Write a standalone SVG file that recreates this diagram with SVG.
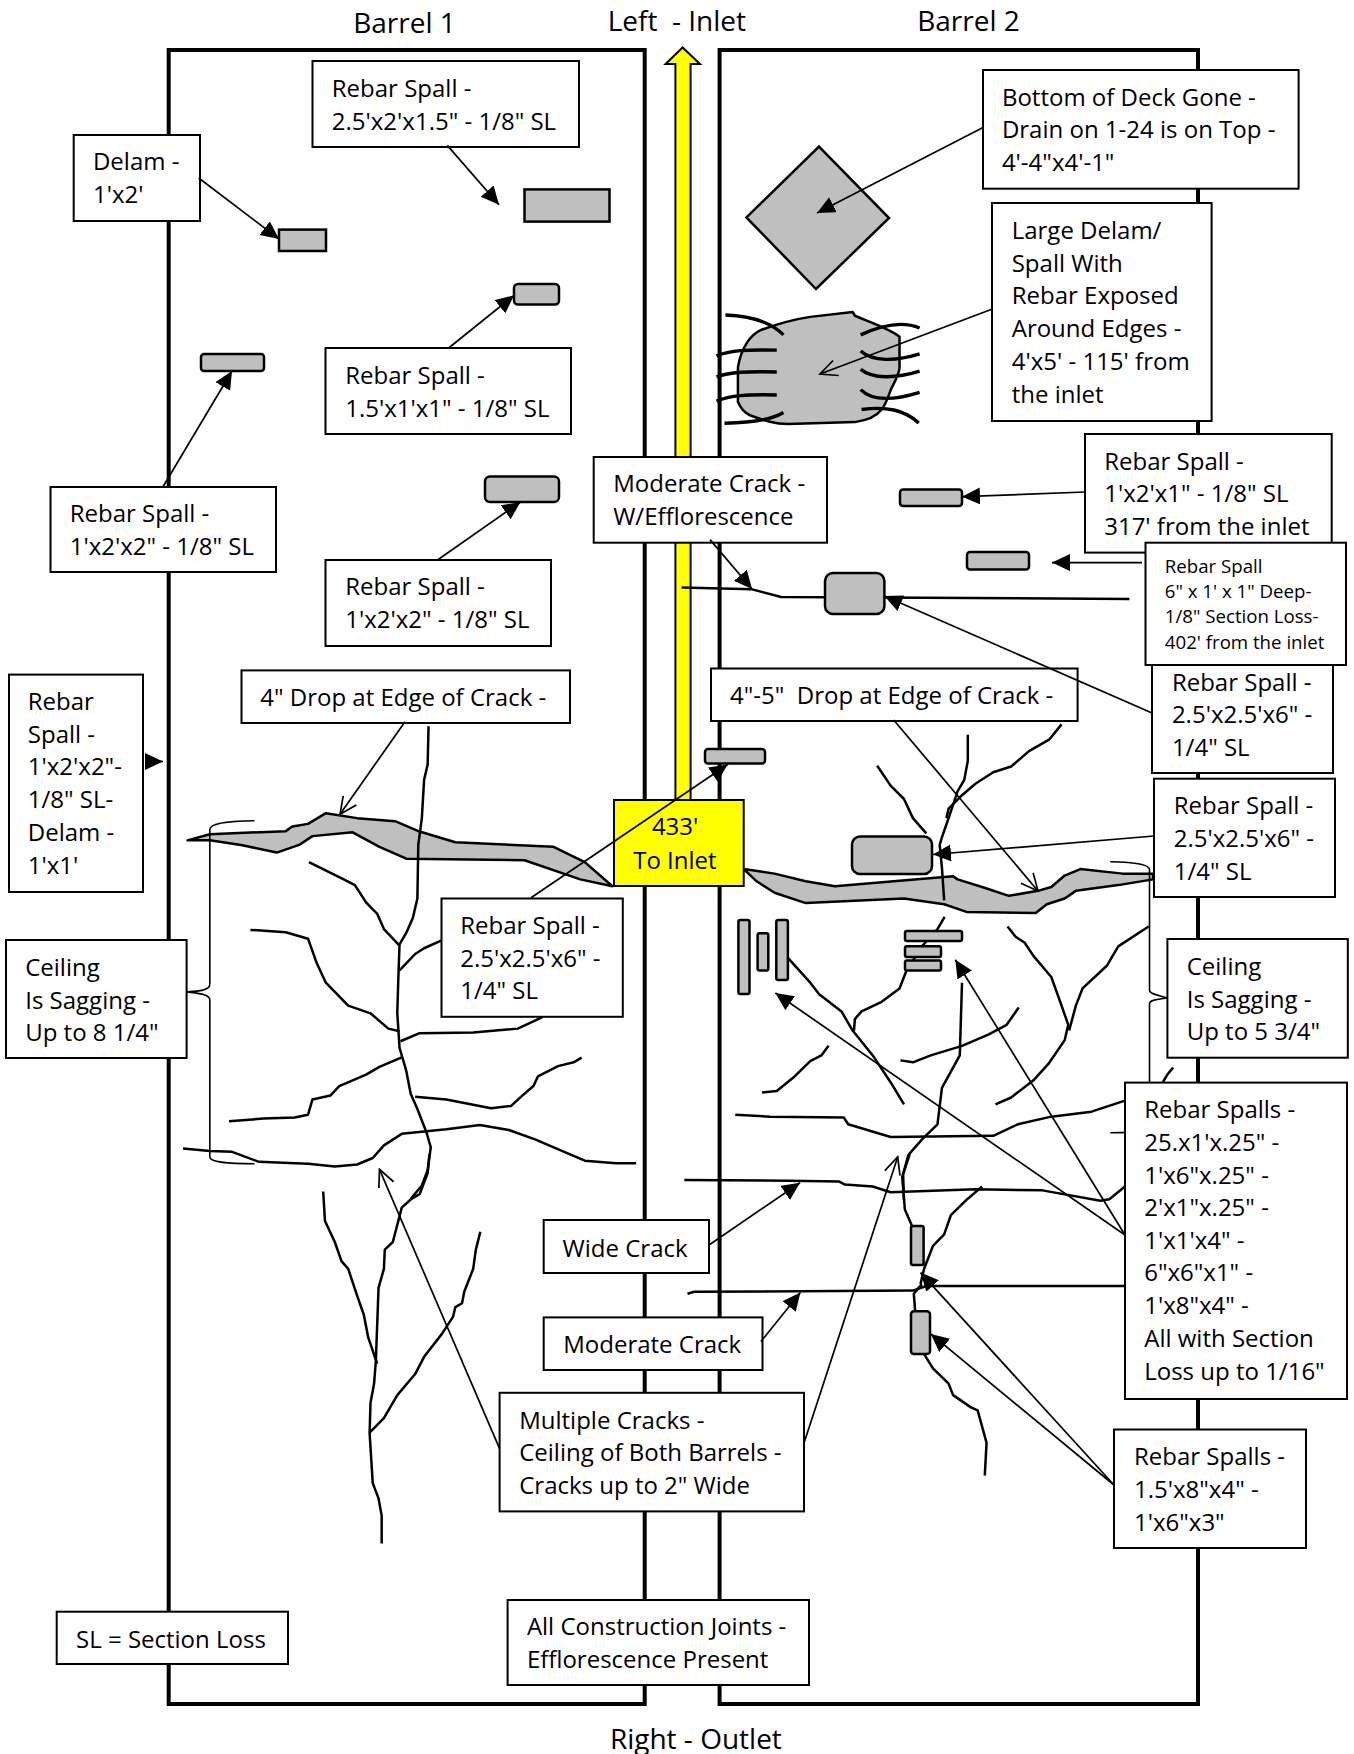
<svg xmlns="http://www.w3.org/2000/svg" width="1354" height="1754" viewBox="0 0 1354 1754">
<style>
.t{font-family:"Open Sans","Noto Sans",sans-serif;font-size:24px;fill:#000;white-space:pre;transform:translate(-.8px,0)}
.s{font-size:18.67px}
.h{font-size:28px}
.b{fill:#fff;stroke:#000;stroke-width:2}
.g{fill:#bfbfbf;stroke:#000;stroke-width:2.5}
.w{fill:none;stroke:#000;stroke-width:4}
.c polyline,.c path{fill:none;stroke:#000;stroke-width:2.5;stroke-linejoin:round;stroke-linecap:butt;vector-effect:non-scaling-stroke}
.c .br{stroke-width:1.6}
.c path.rb{stroke-width:3.4}
.c polygon,.c path.blob{fill:#bfbfbf;stroke:#000;stroke-width:2.5;stroke-linejoin:round;vector-effect:non-scaling-stroke}
.a line{stroke:#000;stroke-width:1.7;marker-end:url(#fa)}
.a line.o{marker-end:url(#oa)}
</style>
<defs>
<marker id="fa" markerUnits="userSpaceOnUse" markerWidth="19" markerHeight="18" refX="18" refY="8.5" orient="auto"><path d="M0,0L18,8.5L0,17Z" fill="#000"/></marker>
<marker id="oa" markerUnits="userSpaceOnUse" markerWidth="20" markerHeight="20" refX="18" refY="9" orient="auto"><path d="M1,1L18,9L1,17" fill="none" stroke="#000" stroke-width="1.7"/></marker>
</defs>
<rect width="1354" height="1754" fill="#fff"/>
<g id="walls">
<rect class="w" x="168.7" y="50" width="476" height="1654"/>
<rect class="w" x="719.6" y="50" width="478.4" height="1654"/>
</g>
<polygon id="direction-arrow" points="675.4,800 675.4,64 665.6,64 682.6,47.5 700,64 690.6,64 690.6,800" fill="#ffff00" stroke="#000" stroke-width="2"/>
<g id="titles">
<text class="t h" x="354" y="32.5">Barrel 1</text>
<text class="t h" x="608.5" y="30.6">Left  - Inlet</text>
<text class="t h" x="918" y="30.6">Barrel 2</text>
<text class="t h" x="610.7" y="1749">Right - Outlet</text>
</g>
<g id="cracks-left" class="c" transform="translate(0,600) scale(.4464,.3827)">
<polygon points="420,628 470,612 640,604 655,592 690,585 730,557 800,570 885,578 940,605 1020,633 1240,645 1310,685 1372,748 1300,730 1175,680 910,676 850,645 790,607 700,617 670,640 620,660 540,640 470,628"/>
<polyline points="960,330 958,430 950,470 945,570 937,640 935,780 925,830 910,870 895,900 892,1000 890,1080 895,1170 910,1230 920,1290 935,1330 955,1390 965,1430 958,1490 945,1530 920,1565"/>
<polyline points="692,685 770,730 795,745 820,790 845,820 860,860 895,903"/>
<polyline points="895,968 930,925 950,910 988,890"/>
<polyline points="561,862 640,868 690,885 710,950 730,1000 780,1060 830,1080 870,1120 895,1127"/>
<polyline points="897,1153 940,1132 1060,1130 1160,1120 1215,1090"/>
<polyline points="513,1362 590,1355 660,1352 690,1345 700,1305 740,1295 760,1270 820,1240 850,1220 900,1195"/>
<polyline points="930,1298 1000,1305 1100,1328 1145,1322 1170,1295 1195,1270 1205,1245 1250,1218 1285,1208 1303,1196"/>
<polyline points="410,1433 470,1440 520,1442 580,1468 690,1473 750,1480 800,1475 835,1458 860,1425 900,1395 1000,1383 1075,1372 1140,1385 1200,1410 1260,1440 1310,1465 1380,1472 1425,1472"/>
<path class="br" d="M570,577C500,578 470,585 470,600L470,1005C470,1020 445,1022 420,1024C445,1028 470,1030 470,1045L470,1455C470,1470 510,1473 570,1473"/>
</g>
<g id="cracks-left-lower" class="c" transform="translate(0,1154) scale(.4464,.3827)">
<polyline points="920,119 940,105 958,50 962,0"/>
<polyline points="920,119 900,140 880,230 862,250 860,300 848,350 842,540 838,600 830,650 828,730 835,860 848,900 855,945 855,1018"/>
<polyline points="724,98 728,175 750,230 765,280 780,300 800,370 815,420 825,480 845,548"/>
<polyline points="1076,203 1066,250 1060,300 1040,360 1035,390 1020,400 1015,425 990,470 950,530 930,575 890,630 860,690 828,728"/>
</g>
<g id="cracks-right" class="c" transform="translate(654,600) scale(.4464,.3827)">
<polygon points="201,703 270,715 340,735 405,748 670,722 680,730 735,750 795,773 860,760 890,750 920,720 955,703 1050,715 1118,715 1118,730 1040,745 945,760 920,780 880,795 855,818 700,815 650,795 560,780 340,792 270,765 230,735"/>
<polyline points="703,352 703,420 695,470 680,500 660,570 645,620 640,640 645,700 650,785"/>
<polyline points="913,325 885,365 840,395 800,435 760,450 720,480 690,510 660,545 655,570"/>
<polyline points="500,433 530,485 560,520 580,570 610,610"/>
<polyline points="651,828 635,860 600,905 565,970 550,1015 510,1050 465,1075 450,1095 448,1125"/>
<polyline points="300,935 350,1000 370,1030 420,1075 445,1125 490,1190 530,1260 560,1318"/>
<polyline points="792,853 810,880 830,895 850,930 890,985 910,1050 928,1110 920,1150 885,1210 850,1255 800,1300 765,1318"/>
<polyline points="1108,853 1040,905 1015,955 960,1015 945,1060 930,1125"/>
<polyline points="817,1065 790,1110 750,1135 690,1165 620,1190 580,1208 552,1203"/>
<polyline points="391,1165 375,1190 350,1205 315,1245 275,1283 242,1287"/>
<polyline points="690,1000 685,1190 645,1275 635,1370 600,1410 570,1450 558,1500 560,1568"/>
<polyline points="182,1345 260,1350 425,1352 435,1370 530,1403 760,1400 815,1370 890,1350 980,1337 1055,1308"/>
<polyline points="1140,1260 1150,1240 1163,1222"/>
<path class="br" d="M1022,684C1080,686 1110,690 1110,705L1110,1020C1110,1030 1130,1033 1150,1040C1130,1043 1110,1045 1110,1055L1110,1370C1110,1390 1080,1392 1022,1392"/>
</g>
<g id="cracks-right-lower" class="c" transform="translate(654,1154) scale(.4464,.3827)">
<polyline points="573,0 556,60 562,145 578,188"/>
<polyline points="600,340 582,365 585,410"/>
<polyline points="605,523 625,560 660,600 670,630 710,662 725,670 745,755 741,840"/>
<polyline points="68,68 300,70 415,72 428,80 490,85 530,100 720,92 870,95 1000,122 1020,118 1055,85"/>
<polyline points="735,85 700,120 665,160 650,210 625,240 605,300 597,340"/>
<polyline points="75,365 90,360 580,357 610,345 1055,345"/>
</g>
<g id="cracks-top" class="c" transform="translate(654,0) scale(.4464,.3827)">
<polyline points="62,1535 220,1540 285,1560 1065,1565"/>
</g>
<g id="large-spall" class="c" transform="translate(654,0) scale(.4464,.3827)">
<path class="blob" d="M445,815L350,828C310,835 280,845 240,862C215,875 195,910 188,960L188,1050C195,1070 205,1080 215,1085C250,1100 270,1108 300,1108L450,1103C480,1098 500,1085 510,1070C520,1055 525,1035 530,1020C538,1000 550,975 550,960L550,880C530,860 480,840 450,825Z"/>
<path class="rb" d="M160,823C210,825 260,840 290,875"/>
<path class="rb" d="M140,930C170,915 210,913 275,915"/>
<path class="rb" d="M140,985C170,972 210,970 275,972"/>
<path class="rb" d="M140,1048C170,1033 210,1030 275,1032"/>
<path class="rb" d="M158,1106C210,1105 260,1100 290,1078"/>
<path class="rb" d="M463,875C500,855 550,835 595,857"/>
<path class="rb" d="M463,917C490,945 540,945 595,925"/>
<path class="rb" d="M463,965C490,990 540,990 595,970"/>
<path class="rb" d="M463,1018C490,1050 540,1045 595,1025"/>
<path class="rb" d="M465,1070C520,1062 560,1070 593,1105"/>
</g>
<g id="spalls">
<polygon id="deck-gone" class="g" points="819,146.6 889,218 816,289 746.4,217.4"/>
<rect id="s1" class="g" x="279" y="229.6" width="47" height="21.4"/>
<rect id="s2" class="g" x="524.5" y="189.4" width="85" height="32.2"/>
<rect id="s3" class="g" x="514" y="284" width="45" height="20.6" rx="4"/>
<rect id="s4" class="g" x="201" y="354" width="63" height="17" rx="3"/>
<rect id="s5" class="g" x="485" y="476.5" width="74" height="25.5" rx="5"/>
<rect id="s6" class="g" x="900" y="489.5" width="62" height="16.5" rx="3"/>
<rect id="s7" class="g" x="967" y="552" width="62" height="17.5" rx="3"/>
<rect id="s8" class="g" x="825" y="573" width="59.4" height="41" rx="8"/>
<rect id="s9" class="g" x="705" y="749" width="60" height="14.4" rx="3"/>
<rect id="s10" class="g" x="852" y="836.5" width="80" height="37.5" rx="8"/>
<rect id="s11" class="g" x="738.4" y="920" width="11.1" height="74" rx="2"/>
<rect id="s12" class="g" x="757.6" y="933.3" width="10.7" height="37.1" rx="2"/>
<rect id="s13" class="g" x="776.3" y="920" width="11.6" height="60" rx="2"/>
<rect id="s14" class="g" x="905" y="931" width="57" height="10" rx="2"/>
<rect id="s15" class="g" x="905" y="946.3" width="36" height="10.7" rx="2"/>
<rect id="s16" class="g" x="905" y="960.5" width="36" height="10" rx="2"/>
<rect id="s17" class="g" x="911" y="1226" width="12.6" height="39" rx="2"/>
<rect id="s18" class="g" x="911" y="1311.3" width="19" height="42.7" rx="3"/>
</g>
<g id="inlet-box"><rect x="614" y="800" width="129.7" height="86" fill="#ffff00" stroke="#000" stroke-width="2"/><text class="t"><tspan x="652.7" y="835">433'</tspan><tspan x="634" y="869">To Inlet</tspan></text></g>
<g id="n-delam"><rect class="b" x="73.7" y="135" width="126.3" height="86"/><text class="t"><tspan x="93.75" y="170">Delam -</tspan><tspan x="93.75" y="203">1'x2'</tspan></text></g>
<g id="n-spall-a"><rect class="b" x="312.5" y="61" width="266.5" height="86"/><text class="t"><tspan x="332.6" y="96.8">Rebar Spall -</tspan><tspan x="332.6" y="130">2.5'x2'x1.5" - 1/8" SL</tspan></text></g>
<g id="n-spall-b"><rect class="b" x="325.5" y="348" width="245.5" height="86"/><text class="t"><tspan x="346" y="384">Rebar Spall -</tspan><tspan x="346" y="417">1.5'x1'x1" - 1/8" SL</tspan></text></g>
<g id="n-spall-c"><rect class="b" x="50.5" y="487" width="225.5" height="85"/><text class="t"><tspan x="70.5" y="521.6">Rebar Spall -</tspan><tspan x="70.5" y="555">1'x2'x2" - 1/8" SL</tspan></text></g>
<g id="n-spall-d"><rect class="b" x="325.5" y="560" width="225.5" height="86"/><text class="t"><tspan x="346" y="595">Rebar Spall -</tspan><tspan x="346" y="627.6">1'x2'x2" - 1/8" SL</tspan></text></g>
<g id="n-moderate-eff"><rect class="b" x="593.7" y="457" width="233.3" height="85.7"/><text class="t"><tspan x="614" y="492">Moderate Crack -</tspan><tspan x="614" y="525">W/Efflorescence</tspan></text></g>
<g id="n-deck"><rect class="b" x="983" y="70" width="315.6" height="118.7"/><text class="t"><tspan x="1002.7" y="106">Bottom of Deck Gone -</tspan><tspan x="1002.7" y="138">Drain on 1-24 is on Top -</tspan><tspan x="1002.7" y="171">4'-4"x4'-1"</tspan></text></g>
<g id="n-large"><rect class="b" x="992" y="203" width="219.6" height="218"/><text class="t"><tspan x="1012.5" y="239">Large Delam/</tspan><tspan x="1012.5" y="271.5">Spall With</tspan><tspan x="1012.5" y="304">Rebar Exposed</tspan><tspan x="1012.5" y="337">Around Edges -</tspan><tspan x="1012.5" y="370">4'x5' - 115' from</tspan><tspan x="1012.5" y="402.6">the inlet</tspan></text></g>
<g id="n-spall-e"><rect class="b" x="1085" y="434" width="246.7" height="118.6"/><text class="t"><tspan x="1105" y="469.6">Rebar Spall -</tspan><tspan x="1105" y="502">1'x2'x1" - 1/8" SL</tspan><tspan x="1105" y="534.6">317' from the inlet</tspan></text></g>
<g id="n-spall-g"><rect class="b" x="1152" y="655" width="181" height="118"/><text class="t"><tspan x="1172.7" y="691">Rebar Spall -</tspan><tspan x="1172.7" y="723">2.5'x2.5'x6" -</tspan><tspan x="1172.7" y="755.8">1/4" SL</tspan></text></g>
<g id="n-spall-f"><rect class="b" x="1145.5" y="542.7" width="200.5" height="122.3"/><text class="t s"><tspan x="1165.6" y="573">Rebar Spall</tspan><tspan x="1165.6" y="598">6" x 1' x 1" Deep-</tspan><tspan x="1165.6" y="623">1/8" Section Loss-</tspan><tspan x="1165.6" y="649">402' from the inlet</tspan></text></g>
<g id="n-spall-h"><rect class="b" x="1154" y="778.7" width="181" height="118.3"/><text class="t"><tspan x="1174.5" y="813.5">Rebar Spall -</tspan><tspan x="1174.5" y="847">2.5'x2.5'x6" -</tspan><tspan x="1174.5" y="880">1/4" SL</tspan></text></g>
<g id="n-drop-right"><rect class="b" x="711" y="668.5" width="366.6" height="52.5"/><text class="t" x="730.8" y="704">4"-5"  Drop at Edge of Crack -</text></g>
<g id="n-drop-left"><rect class="b" x="241.5" y="670.4" width="328.5" height="52.6"/><text class="t" x="261" y="706">4" Drop at Edge of Crack -</text></g>
<g id="n-spall-left"><rect class="b" x="9" y="674.6" width="134" height="217.4"/><text class="t"><tspan x="28.6" y="710">Rebar</tspan><tspan x="28.6" y="742.7">Spall -</tspan><tspan x="28.6" y="775">1'x2'x2"-</tspan><tspan x="28.6" y="808">1/8" SL-</tspan><tspan x="28.6" y="841">Delam -</tspan><tspan x="28.6" y="873.6">1'x1'</tspan></text></g>
<g id="n-ceiling-left"><rect class="b" x="6" y="940" width="180.6" height="118"/><text class="t"><tspan x="26" y="976">Ceiling</tspan><tspan x="26" y="1008.7">Is Sagging -</tspan><tspan x="26" y="1041">Up to 8 1/4"</tspan></text></g>
<g id="n-spall-center"><rect class="b" x="441.5" y="898.5" width="181.3" height="118.3"/><text class="t"><tspan x="461" y="934">Rebar Spall -</tspan><tspan x="461" y="966.6">2.5'x2.5'x6" -</tspan><tspan x="461" y="999">1/4" SL</tspan></text></g>
<g id="n-ceiling-right"><rect class="b" x="1167.4" y="939" width="180.4" height="118.7"/><text class="t"><tspan x="1187.5" y="975">Ceiling</tspan><tspan x="1187.5" y="1007.6">Is Sagging -</tspan><tspan x="1187.5" y="1040">Up to 5 3/4"</tspan></text></g>
<g id="n-spalls-list"><rect class="b" x="1125" y="1082.6" width="222" height="316.4"/><text class="t"><tspan x="1145" y="1117.8">Rebar Spalls -</tspan><tspan x="1145" y="1151">25.x1'x.25" -</tspan><tspan x="1145" y="1183.5">1'x6"x.25" -</tspan><tspan x="1145" y="1216">2'x1"x.25" -</tspan><tspan x="1145" y="1248.5">1'x1'x4" -</tspan><tspan x="1145" y="1281.4">6"x6"x1" -</tspan><tspan x="1145" y="1314">1'x8"x4" -</tspan><tspan x="1145" y="1347">All with Section</tspan><tspan x="1145" y="1380">Loss up to 1/16"</tspan></text></g>
<g id="n-spalls-two"><rect class="b" x="1114" y="1429.5" width="192" height="118.5"/><text class="t"><tspan x="1134.8" y="1465">Rebar Spalls -</tspan><tspan x="1134.8" y="1497.7">1.5'x8"x4" -</tspan><tspan x="1134.8" y="1531">1'x6"x3"</tspan></text></g>
<g id="n-wide"><rect class="b" x="543.7" y="1220" width="165.3" height="53"/><text class="t" x="563.4" y="1256.6">Wide Crack</text></g>
<g id="n-moderate"><rect class="b" x="543.7" y="1317.4" width="218.8" height="52.6"/><text class="t" x="564" y="1353.4">Moderate Crack</text></g>
<g id="n-multiple"><rect class="b" x="499.6" y="1392.8" width="304.4" height="118.6"/><text class="t"><tspan x="520" y="1428.8">Multiple Cracks -</tspan><tspan x="520" y="1461">Ceiling of Both Barrels -</tspan><tspan x="520" y="1494">Cracks up to 2" Wide</tspan></text></g>
<g id="n-joints"><rect class="b" x="507.6" y="1600" width="301.4" height="85"/><text class="t"><tspan x="527.7" y="1635">All Construction Joints -</tspan><tspan x="527.7" y="1668">Efflorescence Present</tspan></text></g>
<g id="n-sl"><rect class="b" x="56.7" y="1611.7" width="231.3" height="52.3"/><text class="t" x="76.8" y="1648.4">SL = Section Loss</text></g>
<g id="connectors" class="a">
<line x1="198.7" y1="178" x2="279" y2="239"/>
<line x1="447.3" y1="145.4" x2="499" y2="204.7"/>
<line x1="448.7" y1="348" x2="514" y2="295.4"/>
<line x1="163" y1="486.8" x2="232" y2="371"/>
<line x1="437.5" y1="560" x2="520.5" y2="502"/>
<line x1="983" y1="127.4" x2="817" y2="213"/>
<line class="o" x1="992.4" y1="309" x2="820" y2="374"/>
<line x1="1085" y1="492" x2="962" y2="496.7"/>
<line x1="1142" y1="562.6" x2="1052" y2="562.6"/>
<line x1="710" y1="539.6" x2="752" y2="589"/>
<line x1="1152" y1="713" x2="884.4" y2="596"/>
<line x1="1154" y1="836" x2="933" y2="854.5"/>
<line class="o" x1="893.7" y1="720" x2="1038" y2="891"/>
<line class="o" x1="405" y1="721.7" x2="340" y2="814.3"/>
<line x1="147" y1="761.5" x2="163" y2="761.5"/>
<line x1="531" y1="897.7" x2="727.7" y2="764.5"/>
<line x1="709.4" y1="1244.7" x2="800" y2="1182.7"/>
<line x1="761" y1="1341.5" x2="800.4" y2="1292.5"/>
<line class="o" x1="499.6" y1="1448.7" x2="379.5" y2="1169.3"/>
<line class="o" x1="804" y1="1443" x2="897.7" y2="1157"/>
<line x1="1125" y1="1235" x2="775.4" y2="993"/>
<line x1="1125" y1="1235" x2="955.3" y2="959.7"/>
<line x1="1114" y1="1485" x2="930.8" y2="1333.9"/>
<line x1="1114" y1="1485" x2="920.5" y2="1272.6"/>
</g>
</svg>
